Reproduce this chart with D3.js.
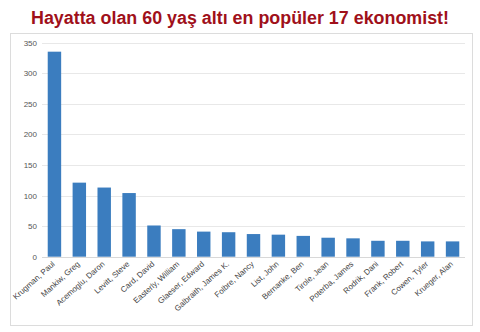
<!DOCTYPE html>
<html>
<head>
<meta charset="utf-8">
<script src="https://cdn.jsdelivr.net/npm/d3@7"></script>
<style>
  html, body { margin: 0; padding: 0; background: #fff; }
  svg { display: block; }
</style>
</head>
<body>
<svg id="chart" width="480" height="332"></svg>
<script>
const names = [
  "Krugman, Paul", "Mankiw, Greg", "Acemoglu, Daron", "Levitt, Steve", "Card, David",
  "Easterly, William", "Glaeser, Edward", "Galbraith, James K.", "Folbre, Nancy",
  "List, John", "Bernanke, Ben", "Tirole, Jean", "Poterba, James", "Rodrik, Dani",
  "Frank, Robert", "Cowen, Tyler", "Krueger, Alan"
];
const mentions = [335, 121, 113, 104, 51, 45, 41, 40, 37, 36, 34, 31, 30, 26, 26, 25, 25];
const yTicks = [0, 50, 100, 150, 200, 250, 300, 350];
const title = "Hayatta olan 60 yaş altı en popüler 17 ekonomist!";

const svg = d3.select("#chart");
const W = 480, H = 332;
const margin = { left: 42, right: 15, top: 43, bottom: 75 };

// Title
svg.append("text")
  .attr("x", 240).attr("y", 23.5)
  .attr("text-anchor", "middle")
  .attr("font-family", "'Liberation Sans Narrow', 'Liberation Sans', Arial, sans-serif")
  .attr("font-weight", "bold")
  .attr("font-size", 18)
  .attr("fill", "#a0101a")
  .attr("textLength", 418)
  .attr("lengthAdjust", "spacingAndGlyphs")
  .text(title);

// Panel frame
svg.append("rect")
  .attr("x", 10.5).attr("y", 33.5)
  .attr("width", 462).attr("height", 292)
  .attr("fill", "#fff")
  .attr("stroke", "#dcdcdc");

const x = d3.scaleBand()
  .domain(names)
  .range([margin.left, W - margin.right])
  .paddingInner(0.46)
  .paddingOuter(0.23);

const y = d3.scaleLinear()
  .domain([0, 350])
  .range([256.7, 256.7 - 350 * 0.612]);

// Gridlines
svg.append("g")
  .selectAll("line")
  .data(yTicks)
  .join("line")
  .attr("x1", margin.left).attr("x2", W - margin.right)
  .attr("y1", d => Math.round(y(d)) + 0.5).attr("y2", d => Math.round(y(d)) + 0.5)
  .attr("stroke", d => d === 0 ? "#d8d8d8" : "#e8e8e8");

// Y axis labels
const yAxis = d3.axisLeft(y).tickValues(yTicks).tickSize(0).tickPadding(0);
const gy = svg.append("g").attr("transform", `translate(37,0)`).call(yAxis);
gy.select(".domain").remove();
gy.selectAll("text")
  .attr("font-family", "'Liberation Sans', Arial, sans-serif")
  .attr("font-size", 8)
  .attr("fill", "#555");

// Bars
svg.append("g")
  .selectAll("rect")
  .data(names)
  .join("rect")
  .attr("x", d => x(d))
  .attr("width", x.bandwidth())
  .attr("y", (d, i) => y(mentions[i]))
  .attr("height", (d, i) => y(0) - y(mentions[i]))
  .attr("fill", "#3b7dbf");

// X axis labels, rotated
const xAxis = d3.axisBottom(x).tickSize(0).tickPadding(0);
const gx = svg.append("g").attr("transform", `translate(0,${y(0)})`).call(xAxis);
gx.select(".domain").remove();
gx.selectAll("text")
  .attr("font-family", "'Liberation Sans', Arial, sans-serif")
  .attr("font-size", 8)
  .attr("fill", "#444")
  .attr("text-anchor", "end")
  .attr("dy", null)
  .attr("transform", "translate(1,8) rotate(-42)");
</script>
</body>
</html>
